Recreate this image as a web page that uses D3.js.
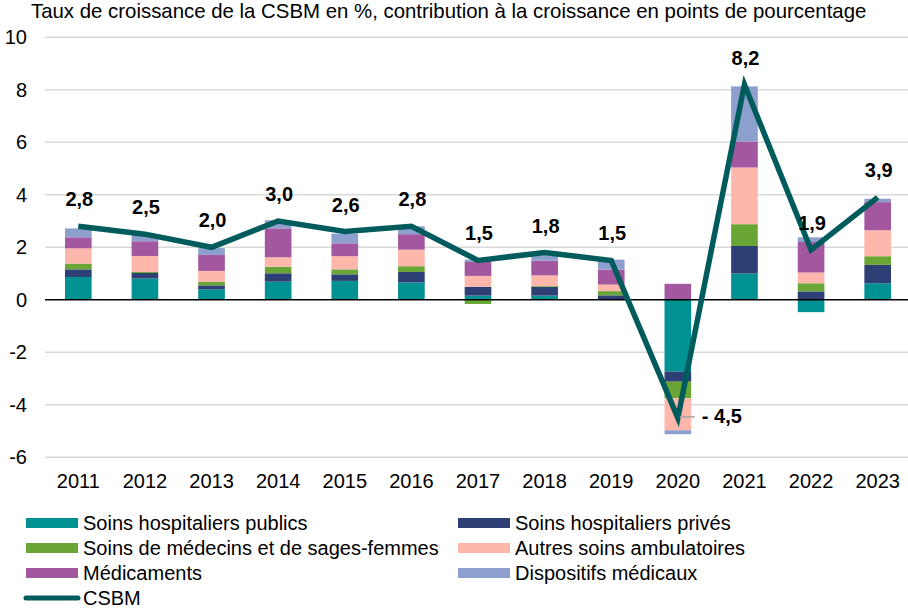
<!DOCTYPE html>
<html lang="fr">
<head>
<meta charset="utf-8">
<script src="https://cdn.jsdelivr.net/npm/d3@7"></script>
<style>
    body { margin: 0; background: #ffffff; }
    .chart text { font-family: "Liberation Sans", Arial, sans-serif; fill: #000000; }
</style>
</head>
<body>
<div class="chart"></div>
<script>
// Croissance de la CSBM - contributions par poste

const years = ['2011', '2012', '2013', '2014', '2015', '2016', '2017', '2018', '2019', '2020', '2021', '2022', '2023'];

const hospPublics   = [0.87, 0.81, 0.40, 0.69, 0.72, 0.66, 0.16, 0.16, 0.02, -2.74, 1.00, -0.47, 0.63];
const hospPrives    = [0.29, 0.21, 0.15, 0.32, 0.25, 0.40, 0.33, 0.33, 0.15, -0.38, 1.05, 0.32, 0.70];
const medecins      = [0.22, 0.04, 0.13, 0.25, 0.19, 0.22, -0.16, 0.03, 0.16, -0.63, 0.83, 0.31, 0.33];
const autresAmbu    = [0.58, 0.61, 0.42, 0.36, 0.50, 0.63, 0.42, 0.41, 0.25, -1.22, 2.16, 0.41, 0.99];
const medicaments   = [0.42, 0.56, 0.61, 1.10, 0.49, 0.59, 0.53, 0.56, 0.57, 0.61, 0.99, 1.16, 1.07];
const dispositifs   = [0.34, 0.23, 0.26, 0.31, 0.37, 0.30, 0.09, 0.21, 0.38, -0.15, 2.10, 0.18, 0.13];
const csbm          = [2.8, 2.5, 2.0, 3.0, 2.6, 2.8, 1.5, 1.8, 1.5, -4.5, 8.2, 1.9, 3.9];

const yTicks = [-6, -4, -2, 0, 2, 4, 6, 8, 10];

const series = [
    { key: 'publics', label: 'Soins hospitaliers publics', values: hospPublics, color: '#009193' },
    { key: 'prives', label: 'Soins hospitaliers privés', values: hospPrives, color: '#2E3F75' },
    { key: 'medecins', label: 'Soins de médecins et de sages-femmes', values: medecins, color: '#69A636' },
    { key: 'autres', label: 'Autres soins ambulatoires', values: autresAmbu, color: '#FFB7AB' },
    { key: 'medicaments', label: 'Médicaments', values: medicaments, color: '#A3579E' },
    { key: 'dispositifs', label: 'Dispositifs médicaux', values: dispositifs, color: '#8C9FCD' }
];
const lineColor = '#005B5C';

const width = 908;
const height = 608;

const svg = d3.select('.chart')
    .append('svg')
    .attr('width', width)
    .attr('height', height);

// Title
svg.append('text')
    .attr('x', 31)
    .attr('y', 18)
    .attr('font-size', '20.4px')
    .text('Taux de croissance de la CSBM en %, contribution à la croissance en points de pourcentage');

// Scales
const xScale = d3.scaleBand()
    .domain(years)
    .range([45, 911])
    .paddingInner(0.6)
    .paddingOuter(0.3);

const yScale = d3.scaleLinear()
    .domain([-6, 10])
    .range([457.3, 37.3]);

// Grid lines
svg.append('g')
    .selectAll('line')
    .data(yTicks.filter(d => d !== 0))
    .enter()
    .append('line')
    .attr('x1', 45)
    .attr('x2', width)
    .attr('y1', d => yScale(d))
    .attr('y2', d => yScale(d))
    .attr('stroke', '#D9D9D9')
    .attr('stroke-width', 1.5);

// Y axis labels (plain hyphen for negatives, as in the source)
const yAxis = svg.append('g')
    .attr('transform', 'translate(27,0)')
    .call(d3.axisLeft(yScale).tickValues(yTicks).tickSize(0).tickPadding(0).tickFormat(d => String(d)));
yAxis.select('.domain').remove();
yAxis.selectAll('text')
    .attr('font-size', '20px')
    .attr('font-family', '"Liberation Sans", Arial, sans-serif')
    .attr('fill', '#000');

// Stacked bars (negative values stacked downward)
const table = years.map((yr, i) => {
    const row = { year: yr };
    series.forEach(s => { row[s.key] = s.values[i]; });
    return row;
});

const stacked = d3.stack()
    .keys(series.map(s => s.key))
    .offset(d3.stackOffsetDiverging)(table);

svg.append('g')
    .selectAll('g')
    .data(stacked)
    .enter()
    .append('g')
    .attr('fill', (d, i) => series[i].color)
    .selectAll('rect')
    .data(d => d)
    .enter()
    .append('rect')
    .attr('x', d => xScale(d.data.year))
    .attr('width', xScale.bandwidth())
    .attr('y', d => yScale(Math.max(d[0], d[1])))
    .attr('height', d => Math.abs(yScale(d[0]) - yScale(d[1])));

// Zero line
svg.append('line')
    .attr('x1', 45)
    .attr('x2', width)
    .attr('y1', yScale(0))
    .attr('y2', yScale(0))
    .attr('stroke', '#000')
    .attr('stroke-width', 1.5);

// X axis labels
const xAxis = svg.append('g')
    .attr('transform', `translate(0,${yScale(-6) + 16.5})`)
    .call(d3.axisBottom(xScale).tickSize(0).tickPadding(0));
xAxis.select('.domain').remove();
xAxis.selectAll('text')
    .attr('font-size', '20px')
    .attr('font-family', '"Liberation Sans", Arial, sans-serif')
    .attr('fill', '#000');

// CSBM line
const cx = i => xScale(years[i]) + xScale.bandwidth() / 2;
const line = d3.line()
    .x((d, i) => cx(i))
    .y(d => yScale(d));

svg.append('path')
    .datum(csbm)
    .attr('d', line)
    .attr('fill', 'none')
    .attr('stroke', lineColor)
    .attr('stroke-width', 5.5)
    .attr('stroke-linejoin', 'miter');

// Data labels
const fmt = v => (v < 0 ? '- ' : '') + Math.abs(v).toFixed(1).replace('.', ',');

csbm.forEach((v, i) => {
    if (v < 0) {
        // label placed to the right with a leader line
        svg.append('line')
            .attr('x1', cx(i) + 2)
            .attr('x2', cx(i) + 17)
            .attr('y1', yScale(v) - 1)
            .attr('y2', yScale(v) - 1)
            .attr('stroke', '#A6A6A6')
            .attr('stroke-width', 1.5);
        svg.append('text')
            .attr('x', cx(i) + 24)
            .attr('y', yScale(v) + 5)
            .attr('font-size', '20px')
            .attr('font-weight', 'bold')
            .text(fmt(v));
    } else {
        svg.append('text')
            .attr('x', cx(i) + 1)
            .attr('y', yScale(v) - 20)
            .attr('text-anchor', 'middle')
            .attr('font-size', '20px')
            .attr('font-weight', 'bold')
            .text(fmt(v));
    }
});

// Legend
const legend = svg.append('g').attr('class', 'legend');

series.forEach((s, i) => {
    const col = i % 2;
    const row = Math.floor(i / 2);
    const lx = col === 0 ? 26 : 458;
    const ly = 523 + row * 25;

    legend.append('rect')
        .attr('x', lx)
        .attr('y', ly - 5)
        .attr('width', 52)
        .attr('height', 10)
        .attr('fill', s.color);

    legend.append('text')
        .attr('x', lx + 57)
        .attr('y', ly)
        .attr('dy', '0.35em')
        .attr('font-size', '20px')
        .text(s.label);
});

legend.append('line')
    .attr('x1', 26)
    .attr('x2', 78)
    .attr('y1', 598)
    .attr('y2', 598)
    .attr('stroke', lineColor)
    .attr('stroke-width', 5)
    .attr('stroke-linecap', 'round');

legend.append('text')
    .attr('x', 83)
    .attr('y', 598)
    .attr('dy', '0.35em')
    .attr('font-size', '20px')
    .text('CSBM');
</script>
</body>
</html>
